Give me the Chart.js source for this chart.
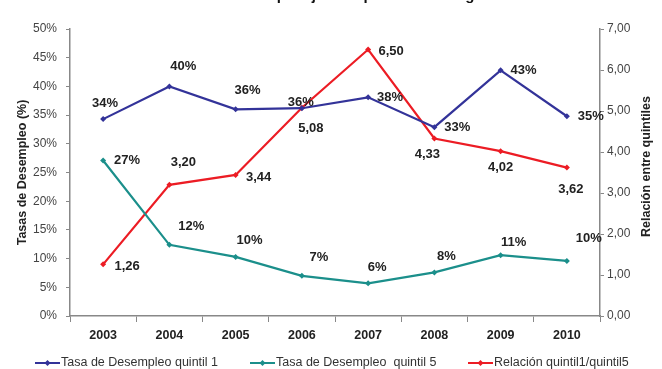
<!DOCTYPE html>
<html>
<head>
<meta charset="utf-8">
<script src="https://cdn.jsdelivr.net/npm/chart.js@4.4.1/dist/chart.umd.min.js"></script>
<style>
  body { margin: 0; background: #fff; }
  canvas { display: block; }
</style>
</head>
<body>
<canvas id="lineChart" width="662" height="369"></canvas>
<script>
let CHART = document.getElementById("lineChart");

// data
let years = ['2003', '2004', '2005', '2006', '2007', '2008', '2009', '2010'];
let quintil1 = [34.3, 40.0, 36.0, 36.2, 38.1, 32.9, 42.8, 34.8];
let quintil5 = [27.1, 12.4, 10.3, 7.0, 5.7, 7.6, 10.6, 9.6];
let relacion = [1.26, 3.20, 3.44, 5.08, 6.50, 4.33, 4.02, 3.62];
let leftTicks = [0, 5, 10, 15, 20, 25, 30, 35, 40, 45, 50];
let rightTicks = [0, 1, 2, 3, 4, 5, 6, 7];

// where each value label sits relative to its point (dx, dy)
let off1 = [[2, -16], [14, -20], [12, -19], [-1, -6], [22, 0], [23, 0], [23, 0], [24, 0]];
let off5 = [[24, 0], [22, -18], [14, -16], [17, -18], [9, -16], [12, -16], [13, -13], [22, -22]];
let offR = [[24, 2], [14, -22], [23, 2], [9, 21], [23, 2], [-7, 16], [0, 16], [4, 22]];

let FONT = "'Liberation Sans', Arial, sans-serif";
let BLUE = '#333399';
let TEAL = '#1b8f8b';
let RED = '#ec1c24';

function pct(v) { return Math.round(v) + '%'; }
function coma(v) { return v.toFixed(2).replace('.', ','); }

let valueLabels = {
    id: 'valueLabels',
    afterDatasetsDraw(chart) {
        let ctx = chart.ctx;
        let offs = [off1, off5, offR];
        let fmt = [pct, pct, coma];
        ctx.save();
        ctx.font = 'bold 13px ' + FONT;
        ctx.fillStyle = '#222';
        ctx.textAlign = 'center';
        ctx.textBaseline = 'middle';
        chart.data.datasets.forEach(function (ds, i) {
            let meta = chart.getDatasetMeta(i);
            meta.data.forEach(function (pt, j) {
                ctx.fillText(fmt[i](ds.data[j]), pt.x + offs[i][j][0], pt.y + offs[i][j][1]);
            });
        });
        ctx.restore();
    }
};

let extras = {
    id: 'extras',
    afterDraw(chart) {
        let ctx = chart.ctx;
        let area = chart.chartArea;
        ctx.save();
        // title, mostly cut off at the top
        ctx.font = 'bold 15px ' + FONT;
        ctx.fillStyle = '#111';
        ctx.textAlign = 'center';
        ctx.textBaseline = 'alphabetic';
        ctx.fillText('Tasas de desempleo juvenil por nivel de ingreso', 334, 0);

        // right axis title, reading upwards
        ctx.save();
        ctx.translate(647, (area.top + area.bottom) / 2 - 6);
        ctx.rotate(-Math.PI / 2);
        ctx.font = 'bold 12.5px ' + FONT;
        ctx.fillStyle = '#222';
        ctx.textAlign = 'center';
        ctx.textBaseline = 'middle';
        ctx.fillText('Relación entre quintiles', 0, 0);
        ctx.restore();

        // legend
        let items = [
            { x: 35, ds: 0 },
            { x: 250, ds: 1 },
            { x: 468, ds: 2 }
        ];
        let y = 363;
        ctx.font = '12.5px ' + FONT;
        ctx.textAlign = 'left';
        ctx.textBaseline = 'middle';
        items.forEach(function (it) {
            let ds = chart.data.datasets[it.ds];
            ctx.strokeStyle = ds.borderColor;
            ctx.lineWidth = 2;
            ctx.beginPath();
            ctx.moveTo(it.x, y);
            ctx.lineTo(it.x + 25, y);
            ctx.stroke();
            ctx.fillStyle = ds.borderColor;
            ctx.beginPath();
            ctx.moveTo(it.x + 12.5, y - 3);
            ctx.lineTo(it.x + 15.5, y);
            ctx.lineTo(it.x + 12.5, y + 3);
            ctx.lineTo(it.x + 9.5, y);
            ctx.closePath();
            ctx.fill();
            ctx.fillStyle = '#333';
            ctx.fillText(ds.label, it.x + 26, y);
        });
        ctx.restore();
    }
};

let data = {
    type: 'line',
    data: {
        labels: years,
        datasets: [
            {
                label: 'Tasa de Desempleo quintil 1',
                data: quintil1,
                yAxisID: 'y',
                borderColor: BLUE,
                backgroundColor: BLUE
            },
            {
                label: 'Tasa de Desempleo  quintil 5',
                data: quintil5,
                yAxisID: 'y',
                borderColor: TEAL,
                backgroundColor: TEAL
            },
            {
                label: 'Relación quintil1/quintil5',
                data: relacion,
                yAxisID: 'y1',
                borderColor: RED,
                backgroundColor: RED
            }
        ]
    },
    options: {
        responsive: false,
        animation: false,
        layout: {
            padding: { top: 29, left: 15, right: 8, bottom: 20 }
        },
        elements: {
            line: { borderWidth: 2.2, tension: 0 },
            point: { pointStyle: 'rectRot', radius: 3, borderWidth: 0 }
        },
        plugins: {
            legend: { display: false },
            tooltip: { enabled: false }
        },
        scales: {
            x: {
                offset: true,
                grid: { offset: true, drawOnChartArea: false, color: '#888', tickLength: 6 },
                border: { color: '#888', width: 1.5 },
                ticks: { color: '#222', padding: 6, font: { family: FONT, size: 12.5, weight: 'bold' } }
            },
            y: {
                position: 'left',
                min: 0,
                max: 50,
                afterBuildTicks(scale) { scale.ticks = leftTicks.map(v => ({ value: v })); },
                afterFit(scale) { scale.width = 55; },
                grid: { drawOnChartArea: false, color: '#888', tickLength: 4 },
                border: { color: '#888', width: 1.5 },
                ticks: { color: '#444', padding: 9, font: { family: FONT, size: 12 }, callback: v => v + '%' },
                title: {
                    display: true,
                    text: 'Tasas de Desempleo (%)',
                    color: '#222',
                    padding: 0,
                    font: { family: FONT, size: 12.5, weight: 'bold' }
                }
            },
            y1: {
                position: 'right',
                min: 0,
                max: 7,
                afterBuildTicks(scale) { scale.ticks = rightTicks.map(v => ({ value: v })); },
                afterFit(scale) { scale.width = 54; },
                grid: { drawOnChartArea: false, color: '#888', tickLength: 4 },
                border: { color: '#888', width: 1.5 },
                ticks: { color: '#444', padding: 3, font: { family: FONT, size: 12 }, callback: v => coma(v) }
            }
        }
    },
    plugins: [valueLabels, extras]
};

new Chart(CHART, data);
</script>
</body>
</html>
